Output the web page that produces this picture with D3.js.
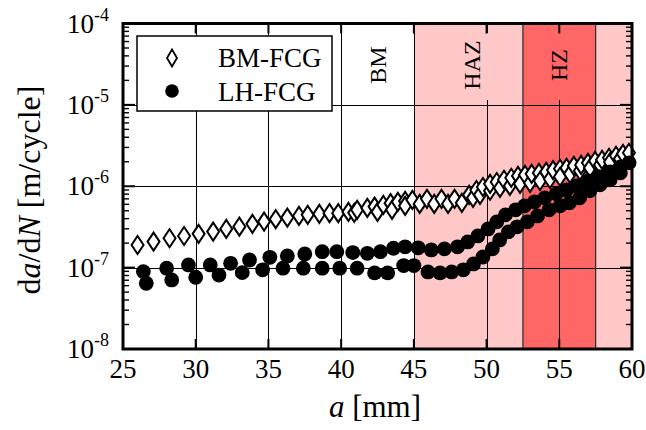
<!DOCTYPE html>
<html>
<head>
<meta charset="utf-8">
<script src="https://cdn.jsdelivr.net/npm/d3@7/dist/d3.min.js"></script>
<style>
  html, body { margin: 0; padding: 0; background: #fff; }
  svg { display: block; }
</style>
</head>
<body>
<svg id="chart" width="646" height="430" font-family="'Liberation Serif', 'DejaVu Serif', serif"></svg>
<script>
// ---------------- data ----------------
const xTicks = [25, 30, 35, 40, 45, 50, 55, 60];
const yExponents = [-8, -7, -6, -5, -4];
const gridX = [30, 35, 40, 45, 50, 55];
const gridY = [1e-7, 1e-6, 1e-5];

// zones along crack length a [mm]
const zoneNames = ["BM", "HAZ", "HZ"];
const zoneLabelPos = [42.5, 49, 55];
const shadeStart = [45, 52.5, 57.5];
const shadeEnd = [52.5, 57.5, 60];
const shadeKind = ["haz", "hz", "haz"];

// BM-FCG : [a (mm), da/dN (m/cycle)]
const bmFCG = [
  [26.0,1.90e-7],[27.1,2.09e-7],[28.2,2.30e-7],[29.2,2.45e-7],[30.2,2.60e-7],[31.2,2.77e-7],
  [32.1,2.99e-7],[33.0,3.19e-7],[33.9,3.45e-7],[34.7,3.68e-7],[35.5,3.94e-7],[36.3,4.12e-7],
  [37.1,4.32e-7],[37.7,4.45e-7],[38.5,4.58e-7],[39.2,4.67e-7],[39.8,4.67e-7],[40.5,4.84e-7],
  [40.9,4.71e-7],[41.1,5.13e-7],[41.8,5.42e-7],[42.3,5.62e-7],[42.5,4.84e-7],[42.9,5.90e-7],
  [43.4,6.20e-7],[43.5,5.13e-7],[43.9,6.43e-7],[44.4,6.61e-7],[44.4,5.74e-7],[44.9,6.80e-7],
  [45.4,6.07e-7],[45.9,7.0e-7],[46.4,6.07e-7],[46.9,7.0e-7],[47.35,6.07e-7],[47.8,7.0e-7],
  [48.3,6.25e-7],[48.8,7.84e-7],[49.07,7.2e-7],[49.3,9.0e-7],[49.55,7.84e-7],[49.75,9.8e-7],
  [50.24,8.8e-7],[50.24,1.07e-6],[50.7,1.13e-6],[50.92,9.55e-7],[51.2,1.20e-6],[51.6,1.01e-6],
  [51.7,1.27e-6],[52.16,1.34e-6],[52.3,1.07e-6],[52.64,1.38e-6],[52.99,1.10e-6],[53.1,1.42e-6],
  [53.6,1.46e-6],[53.67,1.16e-6],[54.1,1.50e-6],[54.36,1.23e-6],[54.57,1.58e-6],[55.05,1.64e-6],
  [55.05,1.31e-6],[55.5,1.68e-6],[55.74,1.42e-6],[56.0,1.78e-6],[56.42,1.55e-6],[56.5,1.83e-6],
  [56.97,1.94e-6],[57.11,1.68e-6],[57.46,2.05e-6],[57.8,1.83e-6],[57.94,2.11e-6],[58.42,2.24e-6],
  [58.49,1.99e-6],[58.9,2.37e-6],[59.17,2.17e-6],[59.38,2.50e-6],[59.79,2.58e-6]
];

// LH-FCG : [a (mm), da/dN (m/cycle)]
const lhFCG = [
  [26.4,8.93e-8],[28.0,9.84e-8],[29.5,1.08e-7],[31.0,1.08e-7],[32.4,1.13e-7],[33.7,1.24e-7],
  [35.1,1.34e-7],[36.3,1.39e-7],[37.5,1.47e-7],[38.7,1.57e-7],[39.7,1.57e-7],[40.8,1.53e-7],
  [41.8,1.50e-7],[42.7,1.57e-7],[43.6,1.73e-7],[44.4,1.80e-7],[45.3,1.75e-7],[46.2,1.65e-7],
  [47.1,1.70e-7],[48.0,1.80e-7],[48.7,2.07e-7],[49.4,2.45e-7],[50.1,2.99e-7],[50.7,3.65e-7],
  [51.3,4.45e-7],[52.0,5.13e-7],[52.6,5.74e-7],[53.3,6.43e-7],[54.0,7.2e-7],[54.8,8.07e-7],
  [55.5,9.0e-7],[56.2,1.01e-6],[57.0,1.16e-6],[57.7,1.31e-6],[58.5,1.50e-6],[59.2,1.73e-6],
  [59.8,1.94e-6],
  [26.6,6.43e-8],[28.35,7.06e-8],[30.0,7.62e-8],[31.6,8.1e-8],[33.2,8.68e-8],[34.6,9.4e-8],
  [36.0,9.84e-8],[37.4,9.84e-8],[38.7,9.84e-8],[39.9,9.84e-8],[41.1,9.84e-8],[42.3,8.6e-8],
  [43.2,8.6e-8],[44.3,1.06e-7],[45.0,1.06e-7],[45.97,8.85e-8],[46.8,8.6e-8],[47.6,8.85e-8],
  [48.4,9.4e-8],[49.1,1.11e-7],[49.75,1.35e-7],[50.4,1.70e-7],[50.9,2.19e-7],[51.5,2.75e-7],
  [52.1,3.17e-7],[52.8,3.65e-7],[53.5,4.32e-7],[54.3,5.13e-7],[55.05,5.74e-7],[55.7,6.25e-7],
  [56.4,7.2e-7],[57.1,8.8e-7],[57.8,1.04e-6],[58.5,1.20e-6],[59.2,1.46e-6]
];

const seriesNames = ["BM-FCG", "LH-FCG"];

// ---------------- drawing ----------------
const FONT = "'Liberation Serif', 'DejaVu Serif', serif";
const L = 123, R = 632, T = 23.5, B = 349;
const svg = d3.select("#chart");
const x = d3.scaleLinear().domain([25, 60]).range([L, R]);
const y = d3.scaleLog().domain([1e-8, 1e-4]).range([B, T]);
const colors = { haz: "#ffc8c8", hz: "#ff6666" };

svg.append("rect").attr("width", 646).attr("height", 430).attr("fill", "#fff");

// shaded zones
svg.selectAll("rect.zone").data(shadeStart).enter().append("rect")
  .attr("class", "zone")
  .attr("x", (d) => x(d)).attr("y", T)
  .attr("width", (d, i) => x(shadeEnd[i]) - x(d)).attr("height", B - T)
  .attr("fill", (d, i) => colors[shadeKind[i]]);

// grid
svg.selectAll("line.gx").data(gridX).enter().append("line")
  .attr("x1", (d) => Math.round(x(d)) + 0.5).attr("x2", (d) => Math.round(x(d)) + 0.5)
  .attr("y1", T).attr("y2", B).attr("stroke", "#000").attr("stroke-width", 1);
svg.selectAll("line.gy").data(gridY).enter().append("line")
  .attr("y1", (d) => Math.round(y(d)) + 0.5).attr("y2", (d) => Math.round(y(d)) + 0.5)
  .attr("x1", L).attr("x2", R).attr("stroke", "#000").attr("stroke-width", 1);

// zone boundaries
[52.5, 57.5].forEach((v) => {
  svg.append("line").attr("x1", x(v)).attr("x2", x(v)).attr("y1", T).attr("y2", B)
    .attr("stroke", "#333").attr("stroke-width", 1.3);
});

// zone labels with background boxes
const zoneFill = ["#fff", colors.haz, colors.hz];
zoneNames.forEach((name, i) => {
  const cx = x(zoneLabelPos[i]);
  svg.append("rect").attr("x", cx - 17).attr("y", 33).attr("width", 34).attr("height", 67)
    .attr("fill", zoneFill[i]);
  svg.append("text")
    .attr("transform", `translate(${cx + 8},65) rotate(-90)`)
    .attr("font-family", FONT)
    .attr("text-anchor", "middle").attr("font-size", 24).text(name);
});

// ticks
const minorVals = [];
for (let e = -8; e < -4; e++) for (let k = 2; k <= 9; k++) minorVals.push(k * Math.pow(10, e));
const tickG = svg.append("g").attr("stroke", "#000");
minorVals.forEach((v) => {
  tickG.append("line").attr("x1", L).attr("x2", L + 6).attr("y1", y(v)).attr("y2", y(v)).attr("stroke-width", 1.4);
  tickG.append("line").attr("x1", R - 6).attr("x2", R).attr("y1", y(v)).attr("y2", y(v)).attr("stroke-width", 1.4);
});
yExponents.forEach((e) => {
  const yy = y(Math.pow(10, e));
  tickG.append("line").attr("x1", L).attr("x2", L + 12).attr("y1", yy).attr("y2", yy).attr("stroke-width", 2);
  tickG.append("line").attr("x1", R - 12).attr("x2", R).attr("y1", yy).attr("y2", yy).attr("stroke-width", 2);
});
xTicks.forEach((v) => {
  tickG.append("line").attr("x1", x(v)).attr("x2", x(v)).attr("y1", B).attr("y2", B - 10).attr("stroke-width", 2);
  tickG.append("line").attr("x1", x(v)).attr("x2", x(v)).attr("y1", T).attr("y2", T + 10).attr("stroke-width", 2);
});

// data: diamonds then circles
const diamond = "M0,-9L6,0L0,9L-6,0Z";
svg.append("g").selectAll("path").data(bmFCG).enter().append("path")
  .attr("d", diamond)
  .attr("transform", (d) => `translate(${x(d[0])},${y(d[1])})`)
  .attr("fill", "#fff").attr("stroke", "#000").attr("stroke-width", 2);
svg.append("g").selectAll("circle").data(lhFCG).enter().append("circle")
  .attr("cx", (d) => x(d[0])).attr("cy", (d) => y(d[1])).attr("r", 7.4)
  .attr("fill", "#000");

// legend
const lg = svg.append("g");
lg.append("rect").attr("x", 137).attr("y", 36).attr("width", 195).attr("height", 75)
  .attr("fill", "#fff").attr("stroke", "#000").attr("stroke-width", 1.5);
lg.append("path").attr("d", "M0,-8.5L5,0L0,8.5L-5,0Z").attr("transform", "translate(172,58)")
  .attr("fill", "#fff").attr("stroke", "#000").attr("stroke-width", 1.8);
lg.append("circle").attr("cx", 172).attr("cy", 91).attr("r", 6.8).attr("fill", "#000");
seriesNames.forEach((s, i) => {
  lg.append("text").attr("x", 218).attr("y", 67 + i * 34).attr("font-family", FONT)
    .attr("font-size", 27).text(s);
});

// frame
svg.append("rect").attr("x", L).attr("y", T).attr("width", R - L).attr("height", B - T)
  .attr("fill", "none").attr("stroke", "#000").attr("stroke-width", 3);

// tick labels
xTicks.forEach((v) => {
  svg.append("text").attr("x", x(v)).attr("y", 378).attr("text-anchor", "middle")
    .attr("font-family", FONT).attr("font-size", 27).text(v);
});
yExponents.forEach((e) => {
  const t = svg.append("text").attr("x", 109).attr("y", y(Math.pow(10, e)) + 9)
    .attr("font-family", FONT).attr("text-anchor", "end").attr("font-size", 27);
  t.append("tspan").text("10");
  t.append("tspan").attr("dy", -12).attr("font-size", 18).text("-" + Math.abs(e));
});

// axis titles
const xt = svg.append("text").attr("x", 375).attr("y", 417).attr("text-anchor", "middle")
  .attr("font-family", FONT).attr("font-size", 31);
xt.append("tspan").attr("font-style", "italic").text("a");
xt.append("tspan").text(" [mm]");

const yt = svg.append("text").attr("transform", "translate(40,190) rotate(-90)")
  .attr("font-family", FONT).attr("text-anchor", "middle").attr("font-size", 32);
yt.append("tspan").text("d");
yt.append("tspan").attr("font-style", "italic").text("a");
yt.append("tspan").text("/d");
yt.append("tspan").attr("font-style", "italic").text("N");
yt.append("tspan").text(" [m/cycle]");
</script>
</body>
</html>
